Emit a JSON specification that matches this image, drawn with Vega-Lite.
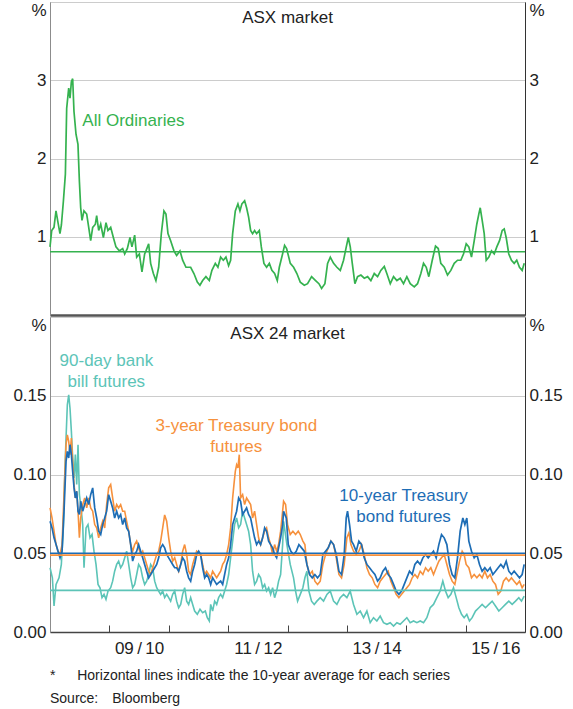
{
  "$schema": "https://vega.github.io/schema/vega-lite/v6.json",
  "autosize": {"type": "pad"},
  "padding": {"left": 12, "top": 0, "right": 4, "bottom": 0},
  "config": {
    "font": "Liberation Sans",
    "view": {"stroke": "#9a9a9a", "strokeWidth": 1},
    "title": {"font": "Liberation Sans", "fontSize": 17, "fontWeight": "normal", "color": "#222222"},
    "axis": {"labelFont": "Liberation Sans", "labelFontSize": 17, "labelColor": "#222222", "title": null}
  },
  "datasets": {
    "allords": [
      {"year": 2008.500, "vol": 0.87}, {"year": 2008.529, "vol": 1.08}, {"year": 2008.567, "vol": 1.12}, {"year": 2008.601, "vol": 1.33},
      {"year": 2008.635, "vol": 1.18}, {"year": 2008.668, "vol": 1.04}, {"year": 2008.692, "vol": 1.15}, {"year": 2008.726, "vol": 1.46},
      {"year": 2008.759, "vol": 1.80}, {"year": 2008.781, "vol": 2.64}, {"year": 2008.815, "vol": 2.90}, {"year": 2008.837, "vol": 2.77},
      {"year": 2008.860, "vol": 2.98}, {"year": 2008.882, "vol": 3.02}, {"year": 2008.904, "vol": 2.60}, {"year": 2008.938, "vol": 2.31},
      {"year": 2008.971, "vol": 2.18}, {"year": 2008.995, "vol": 1.71}, {"year": 2009.017, "vol": 1.37}, {"year": 2009.039, "vol": 1.21},
      {"year": 2009.072, "vol": 1.33}, {"year": 2009.118, "vol": 1.29}, {"year": 2009.152, "vol": 1.12}, {"year": 2009.185, "vol": 0.95},
      {"year": 2009.219, "vol": 1.12}, {"year": 2009.264, "vol": 1.16}, {"year": 2009.286, "vol": 1.27}, {"year": 2009.320, "vol": 1.08},
      {"year": 2009.354, "vol": 1.16}, {"year": 2009.399, "vol": 0.99}, {"year": 2009.443, "vol": 1.18}, {"year": 2009.476, "vol": 1.08},
      {"year": 2009.522, "vol": 1.12}, {"year": 2009.567, "vol": 0.99}, {"year": 2009.611, "vol": 0.87}, {"year": 2009.668, "vol": 0.82},
      {"year": 2009.724, "vol": 0.85}, {"year": 2009.758, "vol": 0.78}, {"year": 2009.803, "vol": 0.85}, {"year": 2009.847, "vol": 0.99},
      {"year": 2009.880, "vol": 0.87}, {"year": 2009.926, "vol": 1.02}, {"year": 2009.960, "vol": 0.74}, {"year": 2010.005, "vol": 0.78},
      {"year": 2010.049, "vol": 0.55}, {"year": 2010.094, "vol": 0.78}, {"year": 2010.116, "vol": 0.82}, {"year": 2010.162, "vol": 0.91},
      {"year": 2010.195, "vol": 0.66}, {"year": 2010.241, "vol": 0.53}, {"year": 2010.284, "vol": 0.44}, {"year": 2010.330, "vol": 0.61},
      {"year": 2010.375, "vol": 1.04}, {"year": 2010.419, "vol": 1.33}, {"year": 2010.453, "vol": 1.29}, {"year": 2010.487, "vol": 1.04},
      {"year": 2010.532, "vol": 0.95}, {"year": 2010.588, "vol": 0.82}, {"year": 2010.633, "vol": 0.76}, {"year": 2010.689, "vol": 0.82},
      {"year": 2010.734, "vol": 0.70}, {"year": 2010.790, "vol": 0.61}, {"year": 2010.869, "vol": 0.61}, {"year": 2010.924, "vol": 0.53},
      {"year": 2010.981, "vol": 0.42}, {"year": 2011.025, "vol": 0.38}, {"year": 2011.071, "vol": 0.44}, {"year": 2011.126, "vol": 0.49},
      {"year": 2011.183, "vol": 0.44}, {"year": 2011.227, "vol": 0.57}, {"year": 2011.284, "vol": 0.66}, {"year": 2011.328, "vol": 0.61},
      {"year": 2011.374, "vol": 0.74}, {"year": 2011.419, "vol": 0.70}, {"year": 2011.463, "vol": 0.74}, {"year": 2011.508, "vol": 0.63},
      {"year": 2011.542, "vol": 0.70}, {"year": 2011.576, "vol": 1.04}, {"year": 2011.621, "vol": 1.33}, {"year": 2011.665, "vol": 1.42},
      {"year": 2011.699, "vol": 1.33}, {"year": 2011.732, "vol": 1.42}, {"year": 2011.778, "vol": 1.46}, {"year": 2011.811, "vol": 1.37},
      {"year": 2011.845, "vol": 1.25}, {"year": 2011.879, "vol": 1.08}, {"year": 2011.912, "vol": 1.04}, {"year": 2011.946, "vol": 1.08},
      {"year": 2011.980, "vol": 1.04}, {"year": 2012.025, "vol": 1.08}, {"year": 2012.059, "vol": 0.87}, {"year": 2012.103, "vol": 0.66},
      {"year": 2012.148, "vol": 0.61}, {"year": 2012.194, "vol": 0.66}, {"year": 2012.237, "vol": 0.57}, {"year": 2012.283, "vol": 0.53},
      {"year": 2012.328, "vol": 0.44}, {"year": 2012.362, "vol": 0.61}, {"year": 2012.417, "vol": 0.78}, {"year": 2012.451, "vol": 0.89},
      {"year": 2012.485, "vol": 0.85}, {"year": 2012.547, "vol": 0.66}, {"year": 2012.603, "vol": 0.61}, {"year": 2012.658, "vol": 0.53},
      {"year": 2012.715, "vol": 0.42}, {"year": 2012.783, "vol": 0.38}, {"year": 2012.838, "vol": 0.40}, {"year": 2012.906, "vol": 0.49},
      {"year": 2012.973, "vol": 0.44}, {"year": 2013.029, "vol": 0.40}, {"year": 2013.074, "vol": 0.34}, {"year": 2013.130, "vol": 0.40},
      {"year": 2013.175, "vol": 0.66}, {"year": 2013.221, "vol": 0.74}, {"year": 2013.276, "vol": 0.66}, {"year": 2013.332, "vol": 0.61},
      {"year": 2013.389, "vol": 0.57}, {"year": 2013.444, "vol": 0.70}, {"year": 2013.490, "vol": 0.87}, {"year": 2013.524, "vol": 0.99},
      {"year": 2013.557, "vol": 0.87}, {"year": 2013.591, "vol": 0.66}, {"year": 2013.635, "vol": 0.40}, {"year": 2013.680, "vol": 0.49},
      {"year": 2013.736, "vol": 0.51}, {"year": 2013.793, "vol": 0.47}, {"year": 2013.849, "vol": 0.49}, {"year": 2013.904, "vol": 0.44},
      {"year": 2013.961, "vol": 0.53}, {"year": 2014.017, "vol": 0.49}, {"year": 2014.072, "vol": 0.57}, {"year": 2014.130, "vol": 0.62},
      {"year": 2014.173, "vol": 0.53}, {"year": 2014.231, "vol": 0.40}, {"year": 2014.286, "vol": 0.49}, {"year": 2014.342, "vol": 0.44},
      {"year": 2014.399, "vol": 0.47}, {"year": 2014.454, "vol": 0.40}, {"year": 2014.510, "vol": 0.49}, {"year": 2014.567, "vol": 0.40},
      {"year": 2014.635, "vol": 0.36}, {"year": 2014.690, "vol": 0.40}, {"year": 2014.746, "vol": 0.53}, {"year": 2014.791, "vol": 0.66},
      {"year": 2014.837, "vol": 0.61}, {"year": 2014.880, "vol": 0.49}, {"year": 2014.938, "vol": 0.70}, {"year": 2014.993, "vol": 0.88},
      {"year": 2015.039, "vol": 0.85}, {"year": 2015.082, "vol": 0.66}, {"year": 2015.140, "vol": 0.61}, {"year": 2015.195, "vol": 0.51},
      {"year": 2015.251, "vol": 0.57}, {"year": 2015.308, "vol": 0.66}, {"year": 2015.364, "vol": 0.70}, {"year": 2015.419, "vol": 0.70},
      {"year": 2015.464, "vol": 0.78}, {"year": 2015.510, "vol": 0.91}, {"year": 2015.554, "vol": 0.87}, {"year": 2015.599, "vol": 0.74},
      {"year": 2015.645, "vol": 0.95}, {"year": 2015.688, "vol": 1.16}, {"year": 2015.722, "vol": 1.29}, {"year": 2015.746, "vol": 1.37},
      {"year": 2015.779, "vol": 1.21}, {"year": 2015.813, "vol": 1.04}, {"year": 2015.847, "vol": 0.70}, {"year": 2015.891, "vol": 0.74},
      {"year": 2015.936, "vol": 0.82}, {"year": 2015.982, "vol": 0.78}, {"year": 2016.025, "vol": 0.87}, {"year": 2016.071, "vol": 0.95},
      {"year": 2016.116, "vol": 1.08}, {"year": 2016.150, "vol": 1.10}, {"year": 2016.183, "vol": 0.99}, {"year": 2016.227, "vol": 0.78},
      {"year": 2016.272, "vol": 0.70}, {"year": 2016.318, "vol": 0.66}, {"year": 2016.361, "vol": 0.70}, {"year": 2016.407, "vol": 0.61},
      {"year": 2016.452, "vol": 0.57}, {"year": 2016.487, "vol": 0.66}
    ],
    "bill": [
      {"year": 2008.501, "vol": 0.0408}, {"year": 2008.540, "vol": 0.0344}, {"year": 2008.568, "vol": 0.0165}, {"year": 2008.602, "vol": 0.0302},
      {"year": 2008.652, "vol": 0.0344}, {"year": 2008.691, "vol": 0.0429}, {"year": 2008.725, "vol": 0.0661}, {"year": 2008.747, "vol": 0.0978},
      {"year": 2008.770, "vol": 0.1231}, {"year": 2008.792, "vol": 0.1443}, {"year": 2008.815, "vol": 0.1506}, {"year": 2008.837, "vol": 0.1421},
      {"year": 2008.860, "vol": 0.1274}, {"year": 2008.882, "vol": 0.1105}, {"year": 2008.905, "vol": 0.0978}, {"year": 2008.927, "vol": 0.1126},
      {"year": 2008.950, "vol": 0.0936}, {"year": 2008.972, "vol": 0.1189}, {"year": 2008.995, "vol": 0.0872}, {"year": 2009.017, "vol": 0.0809},
      {"year": 2009.051, "vol": 0.0682}, {"year": 2009.073, "vol": 0.0408}, {"year": 2009.107, "vol": 0.0661}, {"year": 2009.140, "vol": 0.0682},
      {"year": 2009.174, "vol": 0.0598}, {"year": 2009.208, "vol": 0.0619}, {"year": 2009.241, "vol": 0.0513}, {"year": 2009.275, "vol": 0.0429},
      {"year": 2009.309, "vol": 0.0302}, {"year": 2009.342, "vol": 0.0281}, {"year": 2009.376, "vol": 0.0218}, {"year": 2009.410, "vol": 0.0239},
      {"year": 2009.443, "vol": 0.0207}, {"year": 2009.477, "vol": 0.0260}, {"year": 2009.522, "vol": 0.0281}, {"year": 2009.555, "vol": 0.0323},
      {"year": 2009.589, "vol": 0.0386}, {"year": 2009.623, "vol": 0.0429}, {"year": 2009.656, "vol": 0.0450}, {"year": 2009.690, "vol": 0.0408},
      {"year": 2009.724, "vol": 0.0429}, {"year": 2009.758, "vol": 0.0471}, {"year": 2009.791, "vol": 0.0513}, {"year": 2009.825, "vol": 0.0429},
      {"year": 2009.859, "vol": 0.0344}, {"year": 2009.892, "vol": 0.0281}, {"year": 2009.926, "vol": 0.0302}, {"year": 2009.960, "vol": 0.0365},
      {"year": 2009.993, "vol": 0.0429}, {"year": 2010.027, "vol": 0.0408}, {"year": 2010.061, "vol": 0.0344}, {"year": 2010.094, "vol": 0.0302},
      {"year": 2010.128, "vol": 0.0323}, {"year": 2010.162, "vol": 0.0365}, {"year": 2010.195, "vol": 0.0429}, {"year": 2010.229, "vol": 0.0408},
      {"year": 2010.263, "vol": 0.0323}, {"year": 2010.297, "vol": 0.0281}, {"year": 2010.330, "vol": 0.0260}, {"year": 2010.364, "vol": 0.0239},
      {"year": 2010.398, "vol": 0.0260}, {"year": 2010.431, "vol": 0.0218}, {"year": 2010.465, "vol": 0.0239}, {"year": 2010.499, "vol": 0.0218},
      {"year": 2010.532, "vol": 0.0196}, {"year": 2010.566, "vol": 0.0239}, {"year": 2010.600, "vol": 0.0260}, {"year": 2010.633, "vol": 0.0196},
      {"year": 2010.667, "vol": 0.0154}, {"year": 2010.701, "vol": 0.0175}, {"year": 2010.734, "vol": 0.0239}, {"year": 2010.768, "vol": 0.0281},
      {"year": 2010.802, "vol": 0.0196}, {"year": 2010.835, "vol": 0.0175}, {"year": 2010.869, "vol": 0.0218}, {"year": 2010.903, "vol": 0.0175},
      {"year": 2010.936, "vol": 0.0133}, {"year": 2010.981, "vol": 0.0112}, {"year": 2011.026, "vol": 0.0144}, {"year": 2011.071, "vol": 0.0122},
      {"year": 2011.116, "vol": 0.0133}, {"year": 2011.149, "vol": 0.0091}, {"year": 2011.183, "vol": 0.0070}, {"year": 2011.206, "vol": 0.0175},
      {"year": 2011.239, "vol": 0.0133}, {"year": 2011.273, "vol": 0.0196}, {"year": 2011.307, "vol": 0.0175}, {"year": 2011.340, "vol": 0.0218},
      {"year": 2011.374, "vol": 0.0239}, {"year": 2011.408, "vol": 0.0218}, {"year": 2011.441, "vol": 0.0260}, {"year": 2011.475, "vol": 0.0302},
      {"year": 2011.509, "vol": 0.0365}, {"year": 2011.542, "vol": 0.0471}, {"year": 2011.576, "vol": 0.0577}, {"year": 2011.609, "vol": 0.0682},
      {"year": 2011.643, "vol": 0.0724}, {"year": 2011.677, "vol": 0.0661}, {"year": 2011.710, "vol": 0.0682}, {"year": 2011.744, "vol": 0.0767},
      {"year": 2011.778, "vol": 0.0724}, {"year": 2011.811, "vol": 0.0682}, {"year": 2011.845, "vol": 0.0640}, {"year": 2011.879, "vol": 0.0555},
      {"year": 2011.912, "vol": 0.0386}, {"year": 2011.946, "vol": 0.0302}, {"year": 2011.980, "vol": 0.0323}, {"year": 2012.013, "vol": 0.0365},
      {"year": 2012.047, "vol": 0.0344}, {"year": 2012.081, "vol": 0.0281}, {"year": 2012.115, "vol": 0.0302}, {"year": 2012.148, "vol": 0.0260},
      {"year": 2012.182, "vol": 0.0281}, {"year": 2012.216, "vol": 0.0239}, {"year": 2012.249, "vol": 0.0281}, {"year": 2012.283, "vol": 0.0218},
      {"year": 2012.317, "vol": 0.0260}, {"year": 2012.350, "vol": 0.0323}, {"year": 2012.384, "vol": 0.0365}, {"year": 2012.418, "vol": 0.0555},
      {"year": 2012.434, "vol": 0.0703}, {"year": 2012.490, "vol": 0.0555}, {"year": 2012.546, "vol": 0.0429}, {"year": 2012.602, "vol": 0.0344},
      {"year": 2012.636, "vol": 0.0260}, {"year": 2012.670, "vol": 0.0196}, {"year": 2012.715, "vol": 0.0239}, {"year": 2012.759, "vol": 0.0281},
      {"year": 2012.793, "vol": 0.0344}, {"year": 2012.827, "vol": 0.0386}, {"year": 2012.860, "vol": 0.0260}, {"year": 2012.905, "vol": 0.0196},
      {"year": 2012.950, "vol": 0.0175}, {"year": 2012.995, "vol": 0.0196}, {"year": 2013.051, "vol": 0.0218}, {"year": 2013.107, "vol": 0.0196},
      {"year": 2013.164, "vol": 0.0239}, {"year": 2013.220, "vol": 0.0260}, {"year": 2013.276, "vol": 0.0196}, {"year": 2013.332, "vol": 0.0175},
      {"year": 2013.388, "vol": 0.0218}, {"year": 2013.444, "vol": 0.0239}, {"year": 2013.500, "vol": 0.0218}, {"year": 2013.556, "vol": 0.0260},
      {"year": 2013.612, "vol": 0.0175}, {"year": 2013.669, "vol": 0.0112}, {"year": 2013.725, "vol": 0.0133}, {"year": 2013.781, "vol": 0.0091},
      {"year": 2013.837, "vol": 0.0133}, {"year": 2013.893, "vol": 0.0059}, {"year": 2013.949, "vol": 0.0091}, {"year": 2014.005, "vol": 0.0070},
      {"year": 2014.061, "vol": 0.0101}, {"year": 2014.117, "vol": 0.0059}, {"year": 2014.174, "vol": 0.0049}, {"year": 2014.230, "vol": 0.0059},
      {"year": 2014.286, "vol": 0.0038}, {"year": 2014.342, "vol": 0.0059}, {"year": 2014.398, "vol": 0.0049}, {"year": 2014.454, "vol": 0.0070},
      {"year": 2014.510, "vol": 0.0091}, {"year": 2014.566, "vol": 0.0059}, {"year": 2014.623, "vol": 0.0070}, {"year": 2014.679, "vol": 0.0059},
      {"year": 2014.735, "vol": 0.0070}, {"year": 2014.791, "vol": 0.0059}, {"year": 2014.847, "vol": 0.0091}, {"year": 2014.903, "vol": 0.0154},
      {"year": 2014.959, "vol": 0.0175}, {"year": 2015.015, "vol": 0.0218}, {"year": 2015.071, "vol": 0.0260}, {"year": 2015.116, "vol": 0.0323},
      {"year": 2015.161, "vol": 0.0260}, {"year": 2015.206, "vol": 0.0218}, {"year": 2015.251, "vol": 0.0239}, {"year": 2015.296, "vol": 0.0281},
      {"year": 2015.341, "vol": 0.0218}, {"year": 2015.386, "vol": 0.0154}, {"year": 2015.431, "vol": 0.0112}, {"year": 2015.475, "vol": 0.0091},
      {"year": 2015.520, "vol": 0.0112}, {"year": 2015.565, "vol": 0.0070}, {"year": 2015.610, "vol": 0.0091}, {"year": 2015.666, "vol": 0.0133},
      {"year": 2015.723, "vol": 0.0154}, {"year": 2015.778, "vol": 0.0175}, {"year": 2015.835, "vol": 0.0154}, {"year": 2015.891, "vol": 0.0175},
      {"year": 2015.947, "vol": 0.0196}, {"year": 2016.003, "vol": 0.0165}, {"year": 2016.059, "vol": 0.0133}, {"year": 2016.115, "vol": 0.0154},
      {"year": 2016.171, "vol": 0.0175}, {"year": 2016.227, "vol": 0.0196}, {"year": 2016.284, "vol": 0.0175}, {"year": 2016.340, "vol": 0.0196},
      {"year": 2016.396, "vol": 0.0218}, {"year": 2016.441, "vol": 0.0196}, {"year": 2016.486, "vol": 0.0228}
    ],
    "bond3": [
      {"year": 2008.501, "vol": 0.0788}, {"year": 2008.534, "vol": 0.0724}, {"year": 2008.568, "vol": 0.0640}, {"year": 2008.602, "vol": 0.0555},
      {"year": 2008.635, "vol": 0.0513}, {"year": 2008.669, "vol": 0.0492}, {"year": 2008.703, "vol": 0.0555}, {"year": 2008.736, "vol": 0.0872},
      {"year": 2008.770, "vol": 0.1189}, {"year": 2008.792, "vol": 0.1252}, {"year": 2008.815, "vol": 0.1210}, {"year": 2008.837, "vol": 0.1126},
      {"year": 2008.860, "vol": 0.1231}, {"year": 2008.882, "vol": 0.1083}, {"year": 2008.905, "vol": 0.0936}, {"year": 2008.927, "vol": 0.0851},
      {"year": 2008.950, "vol": 0.0894}, {"year": 2008.972, "vol": 0.0767}, {"year": 2008.995, "vol": 0.0598}, {"year": 2009.017, "vol": 0.0724},
      {"year": 2009.051, "vol": 0.0809}, {"year": 2009.084, "vol": 0.0851}, {"year": 2009.118, "vol": 0.0788}, {"year": 2009.152, "vol": 0.0851},
      {"year": 2009.185, "vol": 0.0788}, {"year": 2009.219, "vol": 0.0767}, {"year": 2009.253, "vol": 0.0682}, {"year": 2009.286, "vol": 0.0661},
      {"year": 2009.320, "vol": 0.0598}, {"year": 2009.354, "vol": 0.0661}, {"year": 2009.387, "vol": 0.0703}, {"year": 2009.421, "vol": 0.0661},
      {"year": 2009.454, "vol": 0.0809}, {"year": 2009.488, "vol": 0.0915}, {"year": 2009.522, "vol": 0.0936}, {"year": 2009.555, "vol": 0.0851},
      {"year": 2009.589, "vol": 0.0767}, {"year": 2009.623, "vol": 0.0809}, {"year": 2009.656, "vol": 0.0788}, {"year": 2009.690, "vol": 0.0809},
      {"year": 2009.724, "vol": 0.0767}, {"year": 2009.758, "vol": 0.0767}, {"year": 2009.791, "vol": 0.0703}, {"year": 2009.825, "vol": 0.0640},
      {"year": 2009.859, "vol": 0.0555}, {"year": 2009.892, "vol": 0.0513}, {"year": 2009.926, "vol": 0.0555}, {"year": 2009.960, "vol": 0.0577},
      {"year": 2009.993, "vol": 0.0534}, {"year": 2010.027, "vol": 0.0492}, {"year": 2010.061, "vol": 0.0513}, {"year": 2010.094, "vol": 0.0471},
      {"year": 2010.128, "vol": 0.0429}, {"year": 2010.162, "vol": 0.0386}, {"year": 2010.195, "vol": 0.0365}, {"year": 2010.229, "vol": 0.0408},
      {"year": 2010.263, "vol": 0.0450}, {"year": 2010.297, "vol": 0.0492}, {"year": 2010.330, "vol": 0.0513}, {"year": 2010.364, "vol": 0.0577},
      {"year": 2010.398, "vol": 0.0661}, {"year": 2010.431, "vol": 0.0743}, {"year": 2010.465, "vol": 0.0703}, {"year": 2010.499, "vol": 0.0598},
      {"year": 2010.532, "vol": 0.0513}, {"year": 2010.566, "vol": 0.0450}, {"year": 2010.600, "vol": 0.0471}, {"year": 2010.633, "vol": 0.0429},
      {"year": 2010.667, "vol": 0.0386}, {"year": 2010.701, "vol": 0.0429}, {"year": 2010.734, "vol": 0.0513}, {"year": 2010.768, "vol": 0.0555},
      {"year": 2010.802, "vol": 0.0492}, {"year": 2010.835, "vol": 0.0386}, {"year": 2010.869, "vol": 0.0365}, {"year": 2010.903, "vol": 0.0429},
      {"year": 2010.936, "vol": 0.0471}, {"year": 2010.970, "vol": 0.0513}, {"year": 2011.004, "vol": 0.0503}, {"year": 2011.037, "vol": 0.0492},
      {"year": 2011.071, "vol": 0.0429}, {"year": 2011.105, "vol": 0.0365}, {"year": 2011.138, "vol": 0.0386}, {"year": 2011.172, "vol": 0.0365},
      {"year": 2011.206, "vol": 0.0344}, {"year": 2011.239, "vol": 0.0386}, {"year": 2011.273, "vol": 0.0365}, {"year": 2011.307, "vol": 0.0344},
      {"year": 2011.340, "vol": 0.0365}, {"year": 2011.374, "vol": 0.0386}, {"year": 2011.408, "vol": 0.0429}, {"year": 2011.441, "vol": 0.0450},
      {"year": 2011.475, "vol": 0.0492}, {"year": 2011.509, "vol": 0.0555}, {"year": 2011.542, "vol": 0.0661}, {"year": 2011.576, "vol": 0.0851},
      {"year": 2011.598, "vol": 0.0936}, {"year": 2011.621, "vol": 0.1020}, {"year": 2011.643, "vol": 0.1062}, {"year": 2011.665, "vol": 0.1041},
      {"year": 2011.688, "vol": 0.1126}, {"year": 2011.710, "vol": 0.0851}, {"year": 2011.744, "vol": 0.0872}, {"year": 2011.778, "vol": 0.0809},
      {"year": 2011.811, "vol": 0.0851}, {"year": 2011.845, "vol": 0.0830}, {"year": 2011.879, "vol": 0.0809}, {"year": 2011.912, "vol": 0.0724},
      {"year": 2011.946, "vol": 0.0767}, {"year": 2011.980, "vol": 0.0682}, {"year": 2012.013, "vol": 0.0598}, {"year": 2012.047, "vol": 0.0555},
      {"year": 2012.081, "vol": 0.0598}, {"year": 2012.115, "vol": 0.0640}, {"year": 2012.148, "vol": 0.0661}, {"year": 2012.182, "vol": 0.0598},
      {"year": 2012.216, "vol": 0.0555}, {"year": 2012.249, "vol": 0.0492}, {"year": 2012.283, "vol": 0.0555}, {"year": 2012.317, "vol": 0.0513},
      {"year": 2012.350, "vol": 0.0555}, {"year": 2012.384, "vol": 0.0640}, {"year": 2012.418, "vol": 0.0767}, {"year": 2012.434, "vol": 0.0830},
      {"year": 2012.468, "vol": 0.0809}, {"year": 2012.501, "vol": 0.0682}, {"year": 2012.546, "vol": 0.0619}, {"year": 2012.591, "vol": 0.0640},
      {"year": 2012.636, "vol": 0.0619}, {"year": 2012.681, "vol": 0.0640}, {"year": 2012.715, "vol": 0.0619}, {"year": 2012.759, "vol": 0.0577},
      {"year": 2012.793, "vol": 0.0555}, {"year": 2012.827, "vol": 0.0429}, {"year": 2012.872, "vol": 0.0365}, {"year": 2012.917, "vol": 0.0386},
      {"year": 2012.961, "vol": 0.0323}, {"year": 2013.006, "vol": 0.0302}, {"year": 2013.051, "vol": 0.0323}, {"year": 2013.096, "vol": 0.0429},
      {"year": 2013.141, "vol": 0.0492}, {"year": 2013.186, "vol": 0.0534}, {"year": 2013.231, "vol": 0.0577}, {"year": 2013.276, "vol": 0.0555},
      {"year": 2013.321, "vol": 0.0471}, {"year": 2013.366, "vol": 0.0365}, {"year": 2013.410, "vol": 0.0344}, {"year": 2013.455, "vol": 0.0429},
      {"year": 2013.500, "vol": 0.0598}, {"year": 2013.534, "vol": 0.0629}, {"year": 2013.568, "vol": 0.0555}, {"year": 2013.612, "vol": 0.0513},
      {"year": 2013.657, "vol": 0.0492}, {"year": 2013.702, "vol": 0.0513}, {"year": 2013.747, "vol": 0.0555}, {"year": 2013.792, "vol": 0.0492},
      {"year": 2013.837, "vol": 0.0408}, {"year": 2013.882, "vol": 0.0365}, {"year": 2013.927, "vol": 0.0344}, {"year": 2013.972, "vol": 0.0302},
      {"year": 2014.017, "vol": 0.0281}, {"year": 2014.061, "vol": 0.0323}, {"year": 2014.106, "vol": 0.0344}, {"year": 2014.151, "vol": 0.0365},
      {"year": 2014.196, "vol": 0.0386}, {"year": 2014.241, "vol": 0.0323}, {"year": 2014.286, "vol": 0.0281}, {"year": 2014.331, "vol": 0.0239},
      {"year": 2014.376, "vol": 0.0218}, {"year": 2014.421, "vol": 0.0239}, {"year": 2014.466, "vol": 0.0260}, {"year": 2014.510, "vol": 0.0281},
      {"year": 2014.555, "vol": 0.0302}, {"year": 2014.600, "vol": 0.0344}, {"year": 2014.645, "vol": 0.0365}, {"year": 2014.690, "vol": 0.0344},
      {"year": 2014.735, "vol": 0.0386}, {"year": 2014.780, "vol": 0.0365}, {"year": 2014.825, "vol": 0.0408}, {"year": 2014.870, "vol": 0.0386},
      {"year": 2014.914, "vol": 0.0408}, {"year": 2014.959, "vol": 0.0365}, {"year": 2015.004, "vol": 0.0408}, {"year": 2015.049, "vol": 0.0450},
      {"year": 2015.094, "vol": 0.0471}, {"year": 2015.139, "vol": 0.0492}, {"year": 2015.184, "vol": 0.0429}, {"year": 2015.229, "vol": 0.0365},
      {"year": 2015.273, "vol": 0.0323}, {"year": 2015.318, "vol": 0.0302}, {"year": 2015.352, "vol": 0.0365}, {"year": 2015.397, "vol": 0.0450},
      {"year": 2015.442, "vol": 0.0513}, {"year": 2015.475, "vol": 0.0492}, {"year": 2015.509, "vol": 0.0429}, {"year": 2015.554, "vol": 0.0408},
      {"year": 2015.599, "vol": 0.0344}, {"year": 2015.644, "vol": 0.0365}, {"year": 2015.689, "vol": 0.0344}, {"year": 2015.734, "vol": 0.0365},
      {"year": 2015.778, "vol": 0.0344}, {"year": 2015.823, "vol": 0.0386}, {"year": 2015.868, "vol": 0.0344}, {"year": 2015.913, "vol": 0.0365},
      {"year": 2015.958, "vol": 0.0323}, {"year": 2016.003, "vol": 0.0302}, {"year": 2016.048, "vol": 0.0239}, {"year": 2016.093, "vol": 0.0260},
      {"year": 2016.138, "vol": 0.0323}, {"year": 2016.183, "vol": 0.0344}, {"year": 2016.227, "vol": 0.0323}, {"year": 2016.272, "vol": 0.0344},
      {"year": 2016.317, "vol": 0.0323}, {"year": 2016.362, "vol": 0.0302}, {"year": 2016.407, "vol": 0.0323}, {"year": 2016.452, "vol": 0.0281},
      {"year": 2016.486, "vol": 0.0302}
    ],
    "bond10": [
      {"year": 2008.501, "vol": 0.0703}, {"year": 2008.534, "vol": 0.0661}, {"year": 2008.568, "vol": 0.0598}, {"year": 2008.602, "vol": 0.0555},
      {"year": 2008.635, "vol": 0.0513}, {"year": 2008.669, "vol": 0.0471}, {"year": 2008.703, "vol": 0.0513}, {"year": 2008.736, "vol": 0.0767},
      {"year": 2008.770, "vol": 0.1083}, {"year": 2008.792, "vol": 0.1147}, {"year": 2008.815, "vol": 0.1105}, {"year": 2008.837, "vol": 0.1189},
      {"year": 2008.860, "vol": 0.1126}, {"year": 2008.882, "vol": 0.1020}, {"year": 2008.905, "vol": 0.0915}, {"year": 2008.927, "vol": 0.0851},
      {"year": 2008.950, "vol": 0.0894}, {"year": 2008.972, "vol": 0.0767}, {"year": 2008.995, "vol": 0.0746}, {"year": 2009.017, "vol": 0.0830},
      {"year": 2009.051, "vol": 0.0767}, {"year": 2009.084, "vol": 0.0809}, {"year": 2009.118, "vol": 0.0851}, {"year": 2009.152, "vol": 0.0809},
      {"year": 2009.185, "vol": 0.0872}, {"year": 2009.219, "vol": 0.0915}, {"year": 2009.253, "vol": 0.0788}, {"year": 2009.286, "vol": 0.0724},
      {"year": 2009.320, "vol": 0.0640}, {"year": 2009.354, "vol": 0.0619}, {"year": 2009.387, "vol": 0.0682}, {"year": 2009.421, "vol": 0.0724},
      {"year": 2009.454, "vol": 0.0767}, {"year": 2009.488, "vol": 0.0872}, {"year": 2009.522, "vol": 0.0830}, {"year": 2009.555, "vol": 0.0788},
      {"year": 2009.589, "vol": 0.0724}, {"year": 2009.623, "vol": 0.0767}, {"year": 2009.656, "vol": 0.0724}, {"year": 2009.690, "vol": 0.0746},
      {"year": 2009.724, "vol": 0.0682}, {"year": 2009.758, "vol": 0.0724}, {"year": 2009.791, "vol": 0.0661}, {"year": 2009.825, "vol": 0.0640},
      {"year": 2009.859, "vol": 0.0555}, {"year": 2009.892, "vol": 0.0450}, {"year": 2009.926, "vol": 0.0492}, {"year": 2009.960, "vol": 0.0513},
      {"year": 2009.993, "vol": 0.0555}, {"year": 2010.027, "vol": 0.0513}, {"year": 2010.061, "vol": 0.0471}, {"year": 2010.094, "vol": 0.0429},
      {"year": 2010.128, "vol": 0.0386}, {"year": 2010.162, "vol": 0.0344}, {"year": 2010.195, "vol": 0.0365}, {"year": 2010.229, "vol": 0.0386},
      {"year": 2010.263, "vol": 0.0408}, {"year": 2010.297, "vol": 0.0429}, {"year": 2010.330, "vol": 0.0471}, {"year": 2010.364, "vol": 0.0534},
      {"year": 2010.398, "vol": 0.0555}, {"year": 2010.431, "vol": 0.0534}, {"year": 2010.465, "vol": 0.0492}, {"year": 2010.499, "vol": 0.0471},
      {"year": 2010.532, "vol": 0.0450}, {"year": 2010.566, "vol": 0.0429}, {"year": 2010.600, "vol": 0.0408}, {"year": 2010.633, "vol": 0.0408},
      {"year": 2010.667, "vol": 0.0386}, {"year": 2010.701, "vol": 0.0429}, {"year": 2010.734, "vol": 0.0471}, {"year": 2010.768, "vol": 0.0450},
      {"year": 2010.802, "vol": 0.0386}, {"year": 2010.835, "vol": 0.0344}, {"year": 2010.869, "vol": 0.0323}, {"year": 2010.903, "vol": 0.0386},
      {"year": 2010.936, "vol": 0.0429}, {"year": 2010.970, "vol": 0.0492}, {"year": 2011.004, "vol": 0.0513}, {"year": 2011.037, "vol": 0.0492},
      {"year": 2011.071, "vol": 0.0408}, {"year": 2011.105, "vol": 0.0344}, {"year": 2011.138, "vol": 0.0365}, {"year": 2011.172, "vol": 0.0344},
      {"year": 2011.206, "vol": 0.0302}, {"year": 2011.239, "vol": 0.0344}, {"year": 2011.273, "vol": 0.0323}, {"year": 2011.307, "vol": 0.0302},
      {"year": 2011.340, "vol": 0.0313}, {"year": 2011.374, "vol": 0.0323}, {"year": 2011.408, "vol": 0.0302}, {"year": 2011.441, "vol": 0.0365},
      {"year": 2011.475, "vol": 0.0429}, {"year": 2011.509, "vol": 0.0471}, {"year": 2011.542, "vol": 0.0555}, {"year": 2011.576, "vol": 0.0682},
      {"year": 2011.609, "vol": 0.0724}, {"year": 2011.643, "vol": 0.0767}, {"year": 2011.677, "vol": 0.0851}, {"year": 2011.710, "vol": 0.0830},
      {"year": 2011.744, "vol": 0.0746}, {"year": 2011.778, "vol": 0.0767}, {"year": 2011.811, "vol": 0.0788}, {"year": 2011.845, "vol": 0.0746},
      {"year": 2011.879, "vol": 0.0724}, {"year": 2011.912, "vol": 0.0661}, {"year": 2011.946, "vol": 0.0598}, {"year": 2011.980, "vol": 0.0555},
      {"year": 2012.013, "vol": 0.0577}, {"year": 2012.047, "vol": 0.0555}, {"year": 2012.081, "vol": 0.0598}, {"year": 2012.115, "vol": 0.0661},
      {"year": 2012.148, "vol": 0.0640}, {"year": 2012.182, "vol": 0.0577}, {"year": 2012.216, "vol": 0.0555}, {"year": 2012.249, "vol": 0.0534},
      {"year": 2012.283, "vol": 0.0492}, {"year": 2012.317, "vol": 0.0471}, {"year": 2012.350, "vol": 0.0534}, {"year": 2012.384, "vol": 0.0598},
      {"year": 2012.418, "vol": 0.0682}, {"year": 2012.434, "vol": 0.0767}, {"year": 2012.479, "vol": 0.0724}, {"year": 2012.513, "vol": 0.0555},
      {"year": 2012.557, "vol": 0.0513}, {"year": 2012.602, "vol": 0.0492}, {"year": 2012.647, "vol": 0.0513}, {"year": 2012.692, "vol": 0.0555},
      {"year": 2012.737, "vol": 0.0534}, {"year": 2012.782, "vol": 0.0513}, {"year": 2012.827, "vol": 0.0429}, {"year": 2012.872, "vol": 0.0365},
      {"year": 2012.917, "vol": 0.0344}, {"year": 2012.961, "vol": 0.0365}, {"year": 2013.006, "vol": 0.0344}, {"year": 2013.051, "vol": 0.0365},
      {"year": 2013.096, "vol": 0.0492}, {"year": 2013.141, "vol": 0.0513}, {"year": 2013.186, "vol": 0.0534}, {"year": 2013.231, "vol": 0.0577},
      {"year": 2013.276, "vol": 0.0555}, {"year": 2013.321, "vol": 0.0492}, {"year": 2013.366, "vol": 0.0386}, {"year": 2013.410, "vol": 0.0365},
      {"year": 2013.455, "vol": 0.0492}, {"year": 2013.489, "vol": 0.0724}, {"year": 2013.511, "vol": 0.0767}, {"year": 2013.545, "vol": 0.0682},
      {"year": 2013.579, "vol": 0.0577}, {"year": 2013.612, "vol": 0.0555}, {"year": 2013.657, "vol": 0.0513}, {"year": 2013.702, "vol": 0.0577},
      {"year": 2013.747, "vol": 0.0555}, {"year": 2013.792, "vol": 0.0471}, {"year": 2013.837, "vol": 0.0429}, {"year": 2013.882, "vol": 0.0408},
      {"year": 2013.927, "vol": 0.0386}, {"year": 2013.972, "vol": 0.0365}, {"year": 2014.017, "vol": 0.0323}, {"year": 2014.061, "vol": 0.0344},
      {"year": 2014.106, "vol": 0.0386}, {"year": 2014.151, "vol": 0.0408}, {"year": 2014.196, "vol": 0.0365}, {"year": 2014.241, "vol": 0.0344},
      {"year": 2014.286, "vol": 0.0302}, {"year": 2014.331, "vol": 0.0260}, {"year": 2014.376, "vol": 0.0239}, {"year": 2014.421, "vol": 0.0260},
      {"year": 2014.466, "vol": 0.0302}, {"year": 2014.510, "vol": 0.0344}, {"year": 2014.555, "vol": 0.0386}, {"year": 2014.600, "vol": 0.0365},
      {"year": 2014.645, "vol": 0.0429}, {"year": 2014.690, "vol": 0.0450}, {"year": 2014.735, "vol": 0.0429}, {"year": 2014.780, "vol": 0.0471},
      {"year": 2014.825, "vol": 0.0492}, {"year": 2014.870, "vol": 0.0471}, {"year": 2014.914, "vol": 0.0492}, {"year": 2014.959, "vol": 0.0513},
      {"year": 2015.004, "vol": 0.0471}, {"year": 2015.049, "vol": 0.0555}, {"year": 2015.094, "vol": 0.0619}, {"year": 2015.139, "vol": 0.0598},
      {"year": 2015.184, "vol": 0.0555}, {"year": 2015.229, "vol": 0.0429}, {"year": 2015.273, "vol": 0.0365}, {"year": 2015.318, "vol": 0.0344},
      {"year": 2015.363, "vol": 0.0471}, {"year": 2015.408, "vol": 0.0640}, {"year": 2015.453, "vol": 0.0724}, {"year": 2015.487, "vol": 0.0682},
      {"year": 2015.520, "vol": 0.0724}, {"year": 2015.554, "vol": 0.0577}, {"year": 2015.599, "vol": 0.0513}, {"year": 2015.644, "vol": 0.0471},
      {"year": 2015.689, "vol": 0.0492}, {"year": 2015.734, "vol": 0.0429}, {"year": 2015.778, "vol": 0.0386}, {"year": 2015.823, "vol": 0.0408},
      {"year": 2015.868, "vol": 0.0386}, {"year": 2015.913, "vol": 0.0408}, {"year": 2015.958, "vol": 0.0365}, {"year": 2016.003, "vol": 0.0386},
      {"year": 2016.048, "vol": 0.0408}, {"year": 2016.093, "vol": 0.0429}, {"year": 2016.138, "vol": 0.0408}, {"year": 2016.183, "vol": 0.0450},
      {"year": 2016.227, "vol": 0.0386}, {"year": 2016.272, "vol": 0.0365}, {"year": 2016.317, "vol": 0.0386}, {"year": 2016.362, "vol": 0.0365},
      {"year": 2016.407, "vol": 0.0344}, {"year": 2016.452, "vol": 0.0365}, {"year": 2016.486, "vol": 0.0429}
    ]
  },
  "title": {
    "text": "*\u2003\u00a0\u00a0Horizontal lines indicate the 10-year average for each series",
    "subtitle": "Source:\u2003Bloomberg",
    "orient": "bottom",
    "anchor": "start",
    "frame": "group",
    "fontSize": 14,
    "fontWeight": "normal",
    "color": "#222222",
    "subtitleFont": "Liberation Sans",
    "subtitleFontSize": 14,
    "subtitleColor": "#222222",
    "subtitlePadding": 9,
    "offset": 12
  },
  "spacing": -1,
  "vconcat": [
    {
      "width": 475,
      "height": 313,
      "layer": [
        {
          "data": {"name": "allords"},
          "mark": {"type": "line", "color": "#35b24f", "strokeWidth": 1.7},
          "encoding": {
            "x": {
              "field": "year", "type": "quantitative",
              "scale": {"domain": [2008.5, 2016.5], "nice": false, "zero": false},
              "axis": {"orient": "bottom", "labels": false, "ticks": false, "grid": false, "domainColor": "#555555", "domainWidth": 2.5}
            },
            "y": {
              "field": "vol", "type": "quantitative",
              "scale": {"domain": [0, 4], "nice": false},
              "axis": {
                "orient": "left", "values": [1, 2, 3, 4], "grid": true, "gridColor": "#cccccc",
                "ticks": false, "domainColor": "#8c8c8c", "labelPadding": 4, "labelFlush": false,
                "labelExpr": "datum.value == 4 ? '%' : datum.label",
                "labelBaseline": {"condition": {"test": "datum.value == 4", "value": "top"}, "value": "middle"}
              }
            }
          }
        },
        {
          "data": {"values": [{"series": "All Ordinaries", "vol": 0.808}]},
          "mark": {"type": "rule", "color": "#35b24f", "strokeWidth": 1.6},
          "encoding": {
            "y": {
              "field": "vol", "type": "quantitative",
              "axis": {
                "orient": "right", "values": [1, 2, 3, 4], "grid": false, "ticks": false,
                "domainColor": "#333333", "labelPadding": 4, "labelFlush": false,
                "labelExpr": "datum.value == 4 ? '%' : datum.label",
                "labelBaseline": {"condition": {"test": "datum.value == 4", "value": "top"}, "value": "middle"}
              }
            }
          }
        },
        {
          "data": {"values": [{"name": "All Ordinaries", "year": 2009.045, "vol": 2.42}]},
          "mark": {"type": "text", "align": "left", "baseline": "alphabetic", "fontSize": 17, "color": "#35b24f"},
          "encoding": {
            "x": {"field": "year", "type": "quantitative"},
            "y": {"field": "vol", "type": "quantitative", "axis": null},
            "text": {"field": "name"}
          }
        },
        {
          "data": {"values": [{"panel": "ASX market", "year": 2012.5, "vol": 3.737}]},
          "mark": {"type": "text", "align": "center", "baseline": "alphabetic", "fontSize": 17, "color": "#222222"},
          "encoding": {
            "x": {"field": "year", "type": "quantitative"},
            "y": {"field": "vol", "type": "quantitative", "axis": null},
            "text": {"field": "panel"}
          }
        }
      ],
      "resolve": {"axis": {"y": "independent"}}
    },
    {
      "width": 475,
      "height": 315,
      "layer": [
        {
          "data": {"name": "bill"},
          "mark": {"type": "line", "color": "#5cc4b7", "strokeWidth": 1.6},
          "encoding": {
            "x": {
              "field": "year", "type": "quantitative",
              "scale": {"domain": [2008.5, 2016.5], "nice": false, "zero": false},
              "axis": {
                "orient": "bottom", "values": [2009.5, 2010.5, 2011.5, 2012.5, 2013.5, 2014.5, 2015.5],
                "grid": false, "domainColor": "#444444", "domainWidth": 1.5,
                "ticks": true, "tickSize": -7, "tickColor": "#444444",
                "labelOffset": 29.7, "labelPadding": 15, "labelFlush": false, "labelOverlap": false, "labelBound": false,
                "labelExpr": "datum.value == 2009.5 ? '09\u2009/\u200910' : datum.value == 2011.5 ? '11\u2009/\u200912' : datum.value == 2013.5 ? '13\u2009/\u200914' : datum.value == 2015.5 ? '15\u2009/\u200916' : ''"
              }
            },
            "y": {
              "field": "vol", "type": "quantitative",
              "scale": {"domain": [0, 0.2], "nice": false},
              "axis": {
                "orient": "left", "values": [0, 0.05, 0.1, 0.15, 0.2], "grid": true, "gridColor": "#cccccc",
                "ticks": false, "domainColor": "#8c8c8c", "labelPadding": 4, "labelFlush": false,
                "labelExpr": "datum.value > 0.19 ? '%' : format(datum.value, '.2f')",
                "labelBaseline": {"condition": {"test": "datum.value > 0.19", "value": "top"}, "value": "middle"}
              }
            }
          }
        },
        {
          "data": {"name": "bond3"},
          "mark": {"type": "line", "color": "#f6913d", "strokeWidth": 1.6},
          "encoding": {
            "x": {"field": "year", "type": "quantitative"},
            "y": {"field": "vol", "type": "quantitative", "axis": null}
          }
        },
        {
          "data": {"name": "bond10"},
          "mark": {"type": "line", "color": "#1d6db5", "strokeWidth": 1.7},
          "encoding": {
            "x": {"field": "year", "type": "quantitative"},
            "y": {"field": "vol", "type": "quantitative", "axis": null}
          }
        },
        {
          "data": {"values": [
            {"series": "bill", "vol": 0.0264},
            {"series": "bond3", "vol": 0.0488},
            {"series": "bond10", "vol": 0.0500}
          ]},
          "mark": {"type": "rule", "strokeWidth": 1.6},
          "encoding": {
            "y": {
              "field": "vol", "type": "quantitative",
              "axis": {
                "orient": "right", "values": [0, 0.05, 0.1, 0.15, 0.2], "grid": false, "ticks": false,
                "domainColor": "#333333", "labelPadding": 4, "labelFlush": false,
                "labelExpr": "datum.value > 0.19 ? '%' : format(datum.value, '.2f')",
                "labelBaseline": {"condition": {"test": "datum.value > 0.19", "value": "top"}, "value": "middle"}
              }
            },
            "color": {
              "field": "series", "type": "nominal", "legend": null,
              "scale": {"domain": ["bill", "bond3", "bond10"], "range": ["#5cc4b7", "#f6913d", "#1d6db5"]}
            }
          }
        },
        {
          "data": {"values": [
            {"series": "bill", "name": "90-day bank\nbill futures", "year": 2009.449, "vol": 0.1686},
            {"series": "bond3", "name": "3-year Treasury bond\nfutures", "year": 2011.638, "vol": 0.1274},
            {"series": "bond10", "name": "10-year Treasury\nbond futures", "year": 2014.455, "vol": 0.0830}
          ]},
          "mark": {"type": "text", "align": "center", "baseline": "alphabetic", "fontSize": 17, "lineHeight": 21, "lineBreak": "\n"},
          "encoding": {
            "x": {"field": "year", "type": "quantitative"},
            "y": {"field": "vol", "type": "quantitative", "axis": null},
            "text": {"field": "name"},
            "color": {"field": "series", "type": "nominal", "legend": null}
          }
        },
        {
          "data": {"values": [{"panel": "ASX 24 market", "year": 2012.5, "vol": 0.1862}]},
          "mark": {"type": "text", "align": "center", "baseline": "alphabetic", "fontSize": 17, "color": "#222222"},
          "encoding": {
            "x": {"field": "year", "type": "quantitative"},
            "y": {"field": "vol", "type": "quantitative", "axis": null},
            "text": {"field": "panel"}
          }
        }
      ],
      "resolve": {"axis": {"y": "independent"}}
    }
  ]
}
